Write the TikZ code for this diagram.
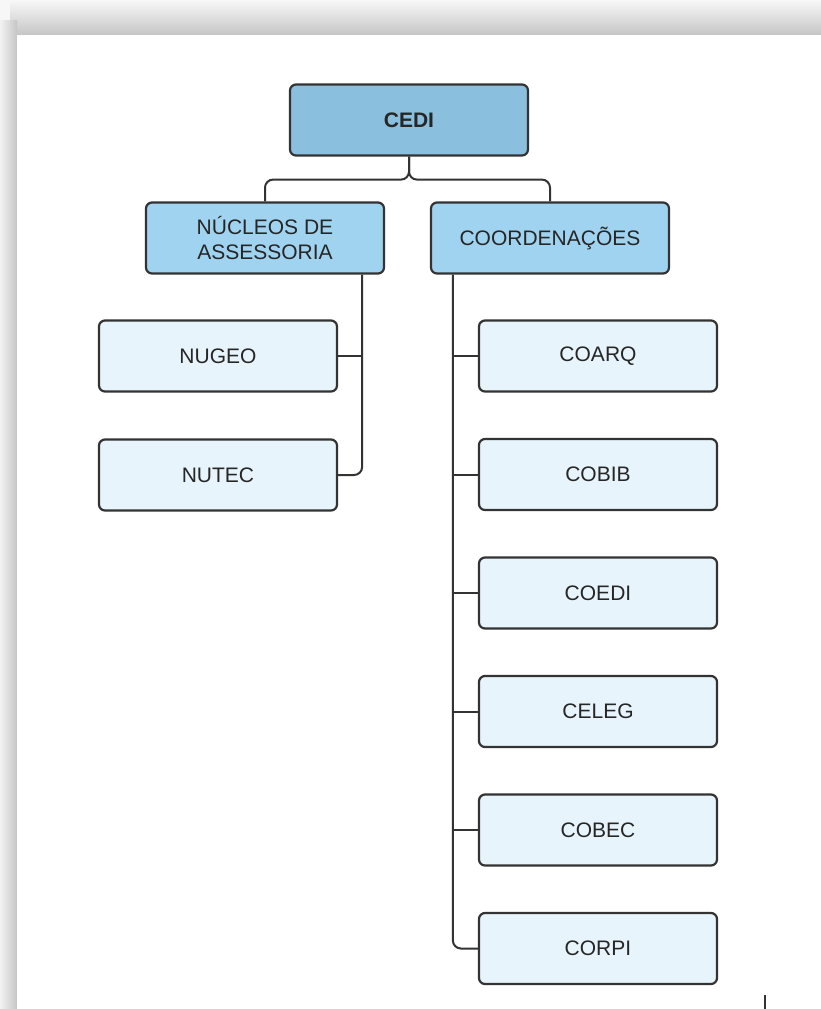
\documentclass[tikz,border=0pt]{standalone}
\usepackage{fontspec}
\setmainfont{Liberation Sans}
\usetikzlibrary{positioning}

\definecolor{topblue}{HTML}{8BBFDE}
\definecolor{midblue}{HTML}{A0D3EF}
\definecolor{leafblue}{HTML}{E8F4FC}
\definecolor{edgegray}{HTML}{333333}

\tikzset{
    box/.style={draw=edgegray, line width=1.1pt, rounded corners=3pt,
        minimum width=119pt, minimum height=35.5pt, align=center,
        text=black!85, font=\fontsize{10.5}{12.5}\selectfont},
    head/.style={box, fill=topblue, font=\fontsize{10.5}{12.5}\selectfont\bfseries},
    group/.style={box, fill=midblue},
    leaf/.style={box, fill=leafblue},
    link/.style={draw=edgegray, line width=1pt, rounded corners=4pt}
}

\begin{document}
\begin{tikzpicture}[x=0.5pt, y=-0.5pt]
    \useasboundingbox (0,0) rectangle (821,1009);
    % page frame
    \fill[gray!6] (0,0) rectangle (821,1009);
    \shade[top color=gray!6, bottom color=gray!45] (10,0) rectangle (821,35);
    \shade[left color=gray!10, right color=gray!45] (0,20) rectangle (17,1009);
    \fill[white] (17,35) rectangle (821,1009);
    \draw[edgegray, line width=0.6pt] (765,995) -- (765,1009);

    \node[head] (cedi) at (409,120) {CEDI};
    \node[group] (nuc) at (265,238) {NÚCLEOS DE\\ASSESSORIA};
    \node[group] (coo) at (550,238) {COORDENAÇÕES};

    \draw[link] (cedi.south) -- ++(0,23) -| (nuc.north);
    \draw[link] (cedi.south) -- ++(0,23) -| (coo.north);

    % nucleos
    \node[leaf] (nugeo) at (218,356) {NUGEO};
    \node[leaf] (nutec) at (218,475) {NUTEC};
    \coordinate (nucstem) at ([xshift=-11.5pt]nuc.south east);
    \draw[link] (nucstem) |- (nutec.east);
    \draw[link] (nugeo.east) -- (nugeo.east -| nucstem);

    % coordenacoes
    \foreach \n/\t [count=\i] in {coarq/COARQ, cobib/COBIB, coedi/COEDI,
        celeg/CELEG, cobec/COBEC, corpi/CORPI}
        \node[leaf] (\n) at (598,{356+118.5*(\i-1)}) {\t};
    \coordinate (coostem) at ([xshift=11.5pt]coo.south west);
    \draw[link] (coostem) |- (corpi.west);
    \foreach \n in {coarq, cobib, coedi, celeg, cobec}
        \draw[link] (\n.west) -- (\n.west -| coostem);
\end{tikzpicture}
\end{document}
